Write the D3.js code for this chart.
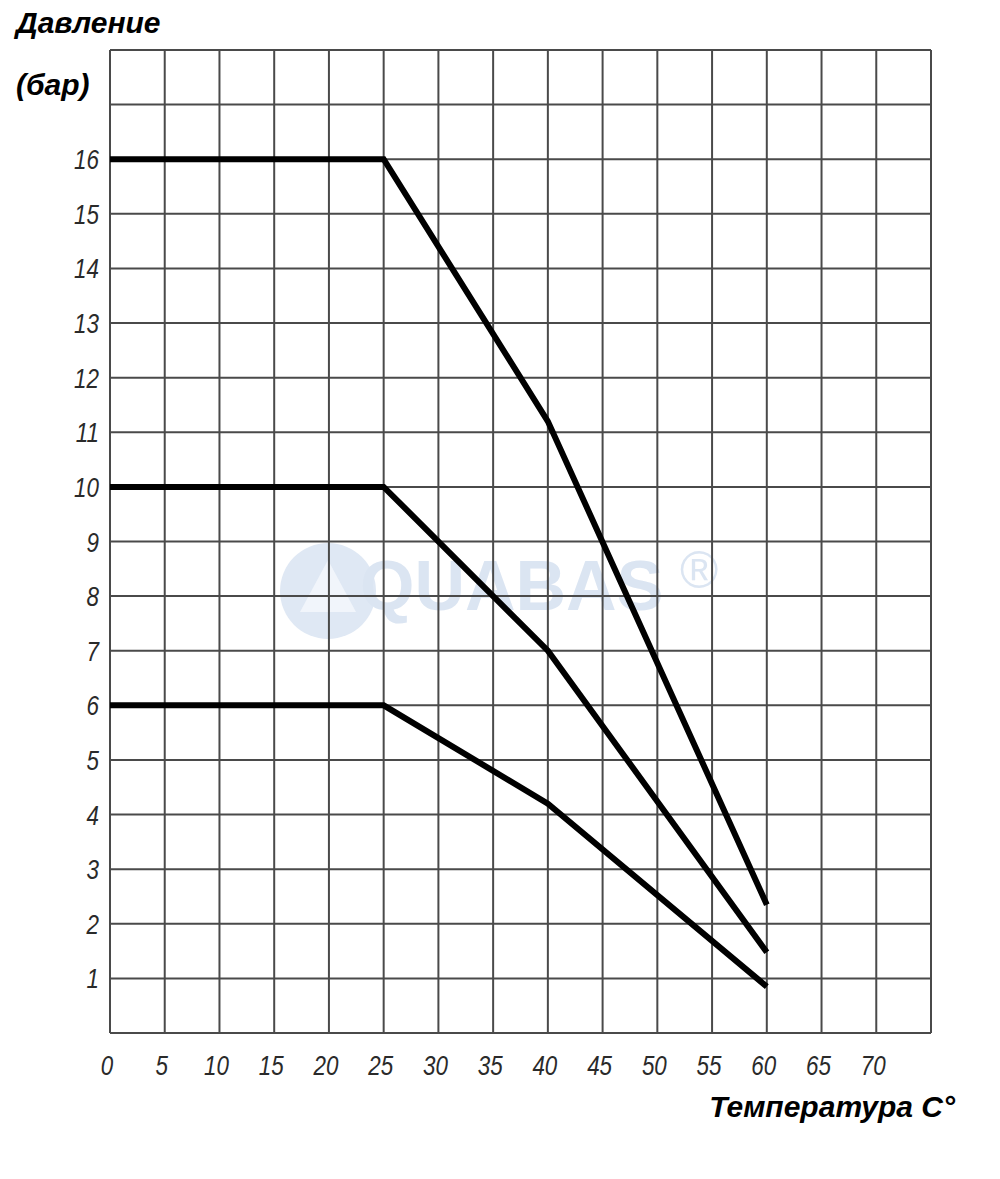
<!DOCTYPE html>
<html><head><meta charset="utf-8">
<script src="https://cdn.jsdelivr.net/npm/d3@7"></script>
<style>body{margin:0;background:#fff}</style>
</head><body><svg id="c" width="1000" height="1179"></svg>
<script>
const xTicks = [0,5,10,15,20,25,30,35,40,45,50,55,60,65,70];
const yTicks = [1,2,3,4,5,6,7,8,9,10,11,12,13,14,15,16];
const temps = [0,25,40,60];
const series16 = [16,16,11.2,2.35];
const series10 = [10,10,7,1.48];
const series6 = [6,6,4.2,0.85];
const yLabel1 = "Давление", yLabel2 = "(бар)", xLabel = "Температура С°";

const svg = d3.select("#c");
const x = d3.scaleLinear().domain([0,75]).range([110,931]);
const y = d3.scaleLinear().domain([0,18]).range([1033,50]);
const font = "'Liberation Sans', Arial, sans-serif";

// watermark
const wm = svg.append("g");
wm.append("circle").attr("cx",328).attr("cy",591).attr("r",48).attr("fill","#dfe8f4");
wm.append("path").attr("d","M300,612 L328,560 L356,612 Z").attr("fill","#f1f5fb");
wm.append("text").attr("x",360).attr("y",610).attr("font-family",font).attr("font-weight","bold")
  .attr("font-size",70).attr("fill","#dbe5f2").text("QUABAS");
wm.append("text").attr("x",680).attr("y",588).attr("font-family",font)
  .attr("font-size",52).attr("fill","#dbe5f2").text("®");

const grid = svg.append("g").attr("stroke","#4a4a4a").attr("stroke-width",2);
d3.range(0,76,5).forEach(v=>grid.append("line").attr("x1",x(v)).attr("x2",x(v)).attr("y1",y(0)).attr("y2",y(18)));
d3.range(0,19,1).forEach(v=>grid.append("line").attr("x1",x(0)).attr("x2",x(75)).attr("y1",y(v)).attr("y2",y(v)));

const line = d3.line().x((d,i)=>x(temps[i])).y(d=>y(d));
[series16,series10,series6].forEach(s=>svg.append("path").attr("d",line(s))
  .attr("fill","none").attr("stroke","#000").attr("stroke-width",6).attr("stroke-linejoin","miter"));

svg.append("g").selectAll("text").data(yTicks).join("text")
  .attr("transform",d=>`translate(99,${y(d)+10}) scale(0.8,1)`).attr("text-anchor","end")
  .attr("font-family",font).attr("font-style","italic").attr("font-size",28).attr("fill","#2a2a2a").text(d=>d);
svg.append("g").selectAll("text").data(xTicks).join("text")
  .attr("transform",d=>`translate(${x(d)-3},1075) scale(0.8,1)`).attr("text-anchor","middle")
  .attr("font-family",font).attr("font-style","italic").attr("font-size",28).attr("fill","#2a2a2a").text(d=>d);

svg.append("text").attr("x",16).attr("y",33).attr("font-family",font).attr("font-weight","bold")
  .attr("font-style","italic").attr("font-size",30).text(yLabel1);
svg.append("text").attr("x",16).attr("y",95).attr("font-family",font).attr("font-weight","bold")
  .attr("font-style","italic").attr("font-size",30).text(yLabel2);
svg.append("text").attr("x",955).attr("y",1117).attr("text-anchor","end").attr("font-family",font).attr("font-weight","bold")
  .attr("font-style","italic").attr("font-size",30).text(xLabel);
</script></body></html>
